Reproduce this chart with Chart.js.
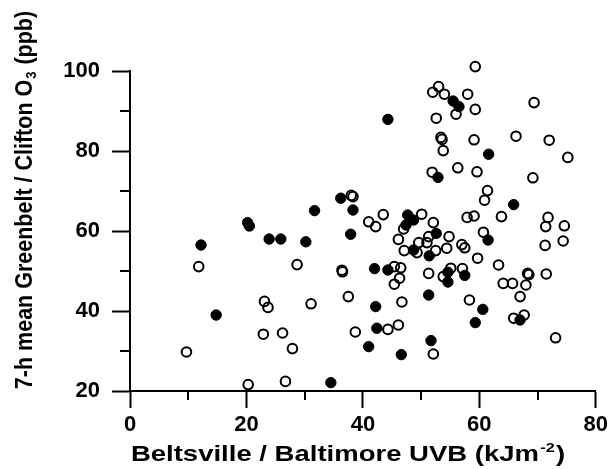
<!DOCTYPE html>
<html>
<head>
<meta charset="utf-8">
<script src="https://cdn.jsdelivr.net/npm/chart.js@4/dist/chart.umd.min.js"></script>
<style>
html,body{margin:0;padding:0;background:#fff;}
#wrap{width:612px;height:469px;}
</style>
</head>
<body>
<div id="wrap"><canvas id="c" width="612" height="469"></canvas></div>
<script>
// ---- data ----
const filledX = [44.3,55.5,56.5,52.9,36.2,31.7,38.3,47.7,48.7,47.4,52.6,48.7,51.4,61.6,65.9,61.5,20.2,20.5,12.2,23.9,25.9,14.8,30.2,37.9,42.0,44.3,51.3,54.6,54.6,57.5,59.3,42.2,42.4,41.0,46.6,51.7,34.5,60.6,67.0];
const filledY = [87.9,92.5,91.1,73.4,68.2,65.1,65.25,64.0,62.75,61.5,59.4,55.25,53.8,79.2,66.6,57.75,62.1,61.25,56.5,58.0,58.0,39.0,57.3,59.2,50.6,50.25,44.0,49.7,47.25,48.9,37.1,41.1,35.7,31.1,29.1,32.6,22.1,40.4,37.75];
const openX = [59.3,53.0,52.0,54.0,58.0,59.3,56.0,52.6,53.4,53.6,53.8,59.1,51.9,56.3,59.6,38.0,38.3,41.0,42.2,43.5,50.1,57.9,59.1,47.0,52.1,51.3,54.8,46.1,49.6,51.0,47.1,49.3,52.5,54.4,57.0,57.5,59.7,69.4,66.3,72.0,75.2,69.2,61.4,60.9,63.8,71.8,60.7,71.4,74.6,71.3,74.4,63.3,68.3,68.5,71.5,64.1,65.7,68.0,67.0,65.9,67.7,73.1,11.8,28.7,23.1,23.7,22.9,26.2,27.9,9.7,20.3,26.7,36.4,36.5,45.4,46.5,46.3,45.4,51.3,53.8,55.1,57.1,58.3,31.1,37.5,46.7,44.3,46.1,38.7,52.1];
const openY = [101.1,96.1,94.7,94.2,94.2,90.4,89.2,88.2,83.4,82.9,80.1,82.8,74.7,75.8,74.8,68.9,68.6,62.3,61.1,64.1,64.2,63.4,63.75,60.5,62.1,58.6,58.6,57.9,57.1,57.1,55.1,54.6,55.1,55.7,56.6,55.8,53.2,92.1,83.7,82.7,78.4,73.3,70.1,67.7,63.6,63.4,59.7,61.1,61.3,56.4,57.5,51.5,49.4,49.1,49.25,46.9,46.9,46.5,43.6,38.2,39.0,33.3,51.1,51.6,42.4,40.9,34.2,34.5,30.6,29.75,21.6,22.4,50.2,49.8,51.1,50.8,48.2,46.7,49.4,48.6,50.7,50.6,42.75,41.8,43.6,42.25,35.4,36.5,34.75,29.25];
const xMajorTicks = [0,20,40,60,80];
const xMinorTicks = [10,30,50,70];
const yMajorTicks = [20,40,60,80,100];
const yMinorTicks = [30,50,70,90];
const xTitleMain = "Beltsville / Baltimore UVB (kJm";
const xTitleSup = "-2";
const xTitleEnd = ")";
const yTitleMain = "7-h mean Greenbelt / Clifton O";
const yTitleSub = "3";
const yTitleEnd = " (ppb)";

const toPts = (xs, ys) => xs.map((x, i) => ({x: x, y: ys[i]}));
const FONT = "'Liberation Sans', Arial, sans-serif";

function drawTitle(ctx, main, small, end, isSup, bigPx, smallPx) {
  const big = 'bold ' + bigPx + 'px ' + FONT, sm = 'bold ' + smallPx + 'px ' + FONT;
  ctx.font = big; const w1 = ctx.measureText(main).width; const w3 = ctx.measureText(end).width;
  ctx.font = sm; const w2 = ctx.measureText(small).width;
  const tot = w1 + w2 + w3 + 2;
  const s0 = -tot / 2;
  ctx.font = big; ctx.fillText(main, s0, 0);
  ctx.font = sm; ctx.fillText(small, s0 + w1 + 1, isSup ? -9 : 4);
  ctx.font = big; ctx.fillText(end, s0 + w1 + w2 + 2, 0);
}

const extras = {
  id: 'extras',
  afterDraw(chart) {
    const ctx = chart.ctx;
    const xs = chart.scales.x, ys = chart.scales.y;
    ctx.save();
    ctx.strokeStyle = '#000';
    ctx.lineWidth = 2;
    xMinorTicks.forEach(v => {
      const px = Math.round(xs.getPixelForValue(v));
      ctx.beginPath(); ctx.moveTo(px, ys.bottom); ctx.lineTo(px, ys.bottom + 9); ctx.stroke();
    });
    yMinorTicks.forEach(v => {
      const py = Math.round(ys.getPixelForValue(v));
      ctx.beginPath(); ctx.moveTo(xs.left, py); ctx.lineTo(xs.left - 10, py); ctx.stroke();
    });
    ctx.fillStyle = '#000';
    ctx.textBaseline = 'alphabetic';
    // x title (horizontally stretched like the reference)
    ctx.save();
    ctx.translate(348, 461);
    ctx.scale(1.25, 1);
    drawTitle(ctx, xTitleMain, xTitleSup, xTitleEnd, true, 22, 13);
    ctx.restore();
    // y title
    ctx.save();
    ctx.translate(32, 200);
    ctx.rotate(-Math.PI / 2);
    ctx.scale(1, 1.12);
    drawTitle(ctx, yTitleMain, yTitleSub, yTitleEnd, false, 21.5, 13);
    ctx.restore();
    ctx.restore();
  }
};

new Chart(document.getElementById('c'), {
  type: 'scatter',
  data: {
    datasets: [
      { label: 'filled', data: toPts(filledX, filledY), pointRadius: 5.2, pointBackgroundColor: '#000', pointBorderColor: '#000', pointBorderWidth: 1, clip: false },
      { label: 'open', data: toPts(openX, openY), pointRadius: 4.8, pointBackgroundColor: 'rgba(255,255,255,0)', pointBorderColor: '#000', pointBorderWidth: 2, clip: false }
    ]
  },
  options: {
    responsive: false,
    animation: false,
    layout: { padding: { top: 71, right: 15, left: 0, bottom: 0 } },
    plugins: { legend: { display: false }, tooltip: { enabled: false } },
    scales: {
      x: {
        type: 'linear', min: 0, max: 80,
        afterBuildTicks: s => { s.ticks = xMajorTicks.map(v => ({value: v})); },
        afterFit: s => { s.height = 78; },
        border: { display: true, color: '#000', width: 2 },
        grid: { drawOnChartArea: false, drawTicks: true, tickLength: 17, tickColor: '#000', tickWidth: 2 },
        ticks: { color: '#000', font: { family: FONT, size: 22, weight: 'bold' }, padding: 4, maxRotation: 0 }
      },
      y: {
        type: 'linear', min: 20, max: 100,
        afterBuildTicks: s => { s.ticks = yMajorTicks.map(v => ({value: v})); },
        afterFit: s => { s.width = 130; },
        border: { display: true, color: '#000', width: 2 },
        grid: { drawOnChartArea: false, drawTicks: true, tickLength: 18, tickColor: '#000', tickWidth: 2 },
        ticks: { color: '#000', font: { family: FONT, size: 22, weight: 'bold' }, padding: 12 }
      }
    }
  },
  plugins: [extras]
});
</script>
</body>
</html>
